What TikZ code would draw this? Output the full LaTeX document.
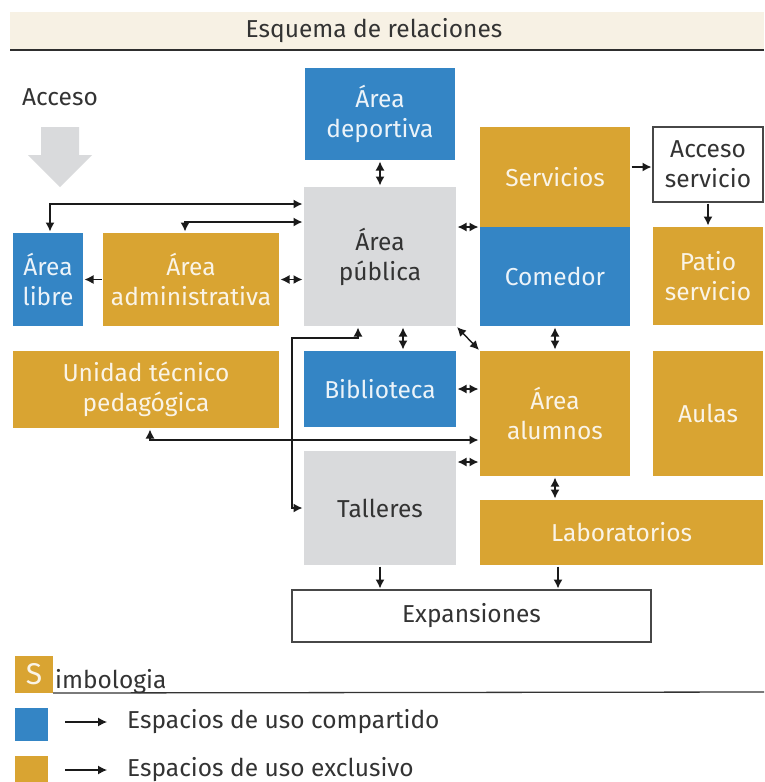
\documentclass[tikz,border=0pt]{standalone}
\usepackage{fontspec}
\setmainfont{Fira Sans}
\usetikzlibrary{arrows.meta}
\definecolor{cblue}{HTML}{3485C5}
\definecolor{cgold}{HTML}{D9A432}
\definecolor{cgray}{HTML}{D9DADC}
\definecolor{cbeige}{HTML}{F7F1E4}
\definecolor{ctext}{HTML}{333333}
\definecolor{cline}{HTML}{1A1A1A}
\tikzset{
  box/.style={rectangle, inner sep=0pt, outer sep=0pt, align=center,
    font=\fontsize{24.5}{30}\selectfont},
  bluebox/.style={box, fill=cblue, text=white!90!cblue},
  goldbox/.style={box, fill=cgold, text=white!88!cgold},
  graybox/.style={box, fill=cgray, text=ctext},
  whitebox/.style={box, draw=ctext!90, line width=1.2pt, fill=white, text=ctext},
  conn/.style={draw=cline, line width=1.4pt, shorten <=1.5pt, shorten >=1.5pt},
  dbl/.style={conn, {Latex[length=9pt,width=9pt]}-{Latex[length=9pt,width=9pt]}},
  sgl/.style={conn, -{Latex[length=9pt,width=9pt]}},
  lbl/.style={inner sep=0pt, text=ctext, font=\fontsize{24.5}{30}\selectfont}
}
\begin{document}
\begin{tikzpicture}[x=1pt,y=-1pt]
\useasboundingbox (0,0) rectangle (764,782);
\clip (0,0) rectangle (764,782);
% header
\fill[cbeige] (10,12) rectangle (764,50);
\draw[ctext!90!black, line width=2pt] (10,50) -- (764,50);
\node[lbl] (title) at (374,31) {Esquema de relaciones};
% access
\node[lbl] (acceso) at (60,97) {Acceso};
\fill[cgray] (41,127) -- (79,127) -- (79,155) -- (92,155) -- (60,187) -- (28,155) -- (41,155) -- cycle;
% boxes
\node[bluebox, minimum width=150pt, minimum height=92pt] (dep) at (380,114) {Área\\deportiva};
\node[graybox, minimum width=152pt, minimum height=139pt] (pub) at (380,256.5) {Área\\pública};
\node[bluebox, minimum width=70pt, minimum height=93pt] (libre) at (48,279.5) {Área\\libre};
\node[goldbox, minimum width=176pt, minimum height=93pt] (adm) at (191,279.5) {Área\\administrativa};
\node[goldbox, minimum width=150pt, minimum height=100pt] (serv) at (555,177) {Servicios};
\node[bluebox, minimum width=150pt, minimum height=99pt] (com) at (555,276.5) {Comedor};
\node[whitebox, minimum width=110pt, minimum height=75pt] (acc) at (708,164.5) {Acceso\\servicio};
\node[goldbox, minimum width=110pt, minimum height=98pt] (patio) at (708,276) {Patio\\servicio};
\node[goldbox, minimum width=266pt, minimum height=77pt] (utp) at (146,389.5) {Unidad técnico\\pedagógica};
\node[bluebox, minimum width=152pt, minimum height=76pt] (bib) at (380,389) {Biblioteca};
\node[goldbox, minimum width=150pt, minimum height=125pt] (alum) at (555,413.5) {Área\\alumnos};
\node[goldbox, minimum width=110pt, minimum height=125pt] (aulas) at (708,413.5) {Aulas};
\node[graybox, minimum width=152pt, minimum height=114pt] (tall) at (380,508) {Talleres};
\node[goldbox, minimum width=283pt, minimum height=65pt] (lab) at (621.5,532.5) {Laboratorios};
\node[whitebox, minimum width=359pt, minimum height=52pt] (exp) at (471.5,616) {Expansiones};
% connectors
\draw[dbl] (dep.south) -- (pub.north);
\draw[dbl] ([xshift=2pt]libre.north) |- ([yshift=52.5pt]pub.west);
\draw[dbl] ([xshift=-6pt]adm.north) |- ([yshift=34.5pt]pub.west);
\draw[sgl] (adm.west) -- (libre.east);
\draw[dbl] (adm.east) -- (pub.west |- adm.east);
\draw[dbl] (pub.east |- com.north west) -- (com.north west);
\draw[sgl] ([yshift=-2.5pt]acc.west -| serv.east) -- ([yshift=-2.5pt]acc.west);
\draw[sgl] (acc.south) -- (patio.north);
\draw[dbl] (com.south) -- (alum.north);
\draw[dbl] (pub.south east) -- (alum.north west);
\draw[dbl] ([xshift=23pt]bib.north) -- ([xshift=23pt]bib.north |- pub.south);
\draw[dbl] (bib.east) -- (alum.west |- bib.east);
\draw[dbl] ([yshift=-11pt]tall.north east) -- ([yshift=-11pt]tall.north east -| alum.west);
\draw[dbl] ([xshift=4pt]utp.south) |- ([yshift=-26.5pt]alum.west);
\coordinate (jt) at (292,338);
\draw[dbl] ([xshift=-22pt]pub.south) |- (jt) |- (tall.west);
\draw[dbl] (alum.south) -- (lab.north -| alum.south);
\draw[sgl] (tall.south) -- (exp.north -| tall.south);
\draw[sgl] ([xshift=-63.5pt]lab.south) -- ([xshift=-63.5pt]lab.south |- exp.north);
% legend
\node[goldbox, minimum width=38pt, minimum height=37pt, font=\fontsize{30}{32}\selectfont] (sbox) at (34,674.5) {S};
\node[lbl, anchor=base west] (simb) at (55,688) {imbologia};
\draw[ctext, line width=1.3pt] (sbox.south east) -- (764,692);
\node[fill=cblue, minimum width=33pt, minimum height=33pt, inner sep=0pt] (lb1) at (31.5,724.5) {};
\coordinate (la1) at (65,722);
\coordinate (lb1e) at (107,722);
\draw[sgl, shorten <=0pt, shorten >=0pt, line width=1.2pt] (la1) -- (lb1e);
\node[lbl, anchor=west] (t1) at (127,722) {Espacios de uso compartido};
\node[fill=cgold, minimum width=33pt, minimum height=33pt, inner sep=0pt] (lb2) at (31.5,772.5) {};
\coordinate (la2) at (65,770);
\coordinate (lb2e) at (107,770);
\draw[sgl, shorten <=0pt, shorten >=0pt, line width=1.2pt] (la2) -- (lb2e);
\node[lbl, anchor=west] (t2) at (127,770) {Espacios de uso exclusivo};
\end{tikzpicture}
\end{document}
